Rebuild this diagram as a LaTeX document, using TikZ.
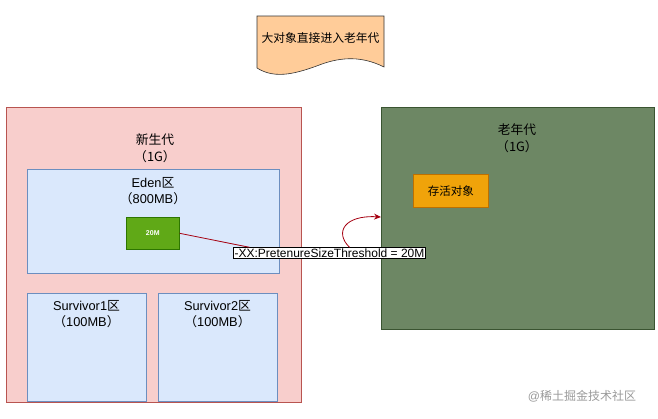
\documentclass[tikz,border=0pt]{standalone}
\usepackage{fontspec}
\usetikzlibrary{arrows.meta}
\setmainfont{Liberation Sans}
\newfontfamily\cjk{Noto Sans CJK SC}
\definecolor{youngfill}{HTML}{F8CECC}
\definecolor{youngline}{HTML}{B85450}
\definecolor{edenfill}{HTML}{DAE8FC}
\definecolor{edenline}{HTML}{6C8EBF}
\definecolor{objfill}{HTML}{60A917}
\definecolor{objline}{HTML}{2D7600}
\definecolor{oldfill}{HTML}{6D8764}
\definecolor{oldline}{HTML}{3A5431}
\definecolor{livefill}{HTML}{F0A30A}
\definecolor{liveline}{HTML}{BD7000}
\definecolor{notefill}{HTML}{FFCC99}
\definecolor{edgered}{HTML}{A50010}
\begin{document}
\begin{tikzpicture}[x=1pt,y=-1pt,
  region/.style={draw,line width=0.6pt,anchor=north west,inner sep=0pt},
  title/.style={align=center,font=\fontsize{12.8}{16.5}\selectfont,inner sep=0pt},
  edge/.style={draw=edgered,line width=0.8pt},
  tip/.style={-{Stealth[length=7pt,width=6pt]}}]
\useasboundingbox (0,0) rectangle (658,418);
% note on top
\filldraw[fill=notefill,draw=black!80,line width=0.6pt] (257,16) -- (384,16) -- (384,67)
  .. controls (362,56) and (342,57) .. (322,64)
  .. controls (298,73) and (276,80) .. (257,68) -- cycle;
\node[title,font=\fontsize{11.8}{14}\selectfont] (note) at (320.5,38) {\cjk 大对象直接进入老年代};
% young generation
\node[region,fill=youngfill,draw=youngline,minimum width=295pt,minimum height=295pt] (young) at (6,107) {};
\node[title] (younglbl) at (155,148) {\cjk 新生代\\\cjk （1G）};
\node[region,fill=edenfill,draw=edenline,minimum width=252pt,minimum height=104pt] (eden) at (27,169) {};
\node[title] (edenlbl) at (153,191) {Eden{\cjk 区}\\{\cjk （}800MB{\cjk ）}};
\node[region,fill=objfill,draw=objline,minimum width=53pt,minimum height=32pt] (m20) at (126,217) {};
\node[text=white,font=\fontsize{7}{8}\selectfont\bfseries] at (m20.center) {20M};
\node[region,fill=edenfill,draw=edenline,minimum width=119pt,minimum height=108pt] (surv1) at (27,293) {};
\node[title] (surv1lbl) at (86.5,314) {Survivor1{\cjk 区}\\{\cjk （}100MB{\cjk ）}};
\node[region,fill=edenfill,draw=edenline,minimum width=119pt,minimum height=108pt] (surv2) at (158,293) {};
\node[title] (surv2lbl) at (217.5,314) {Survivor2{\cjk 区}\\{\cjk （}100MB{\cjk ）}};
% old generation
\node[region,fill=oldfill,draw=oldline,minimum width=273pt,minimum height=222pt] (old) at (381,107) {};
\node[title] (oldlbl) at (517,138) {\cjk 老年代\\\cjk （1G）};
\node[region,fill=livefill,draw=liveline,minimum width=75pt,minimum height=33pt] (live) at (413,174) {};
\node[font=\fontsize{11.5}{13}\selectfont\cjk] at (live.center) {存活对象};
% connector
\coordinate (entry) at (381,217);
\node[draw,fill=white,line width=0.6pt,inner sep=1pt,font=\fontsize{12}{13}\selectfont] (flag) at (329.5,253) {-XX:PretenureSizeThreshold = 20M};
\draw[edge] (m20.east) -- ([xshift=-80pt]flag.north);
\draw[edge,tip] ([xshift=20pt]flag.north) .. controls (334,232) and (345,215) .. (entry);
% watermark
\node[text=black!40,font=\fontsize{12}{14}\selectfont] (mark) at (582,396) {@\cjk 稀土掘金技术社区};
\end{tikzpicture}
\end{document}
